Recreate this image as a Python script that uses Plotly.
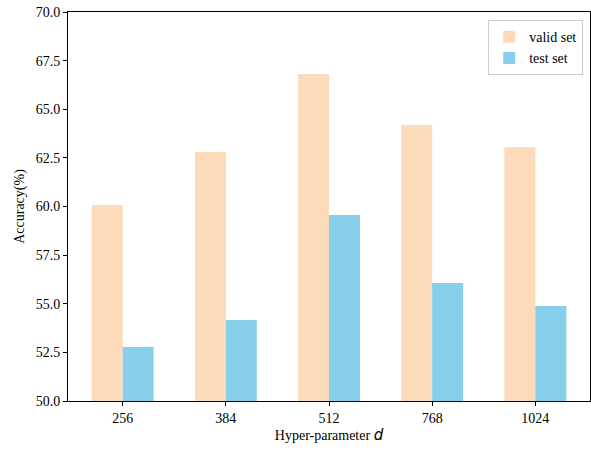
import plotly.graph_objects as go

categories = ["256", "384", "512", "768", "1024"]
valid_set = [60.08, 62.80, 66.81, 64.19, 63.06]
test_set = [52.78, 54.16, 59.56, 56.07, 54.88]
y_ticks = [50.0, 52.5, 55.0, 57.5, 60.0, 62.5, 65.0, 67.5, 70.0]

font_family = "Liberation Serif, Times New Roman, serif"

fig = go.Figure()
fig.add_trace(go.Bar(x=categories, y=valid_set, name="valid set",
                     marker=dict(color="#FDDAB9", line=dict(width=0)),
                     width=0.3, offset=-0.3, base=0))
fig.add_trace(go.Bar(x=categories, y=test_set, name="test set",
                     marker=dict(color="#87CEEB", line=dict(width=0)),
                     width=0.3, offset=0.0, base=0))

fig.update_layout(
    width=591, height=452,
    margin=dict(l=68, r=1, t=12, b=51),
    paper_bgcolor="white", plot_bgcolor="white",
    barmode="overlay",
    font=dict(family=font_family, size=14, color="black"),
    showlegend=True,
    legend=dict(x=0.987, y=0.979, xanchor="right", yanchor="top",
                bgcolor="rgba(255,255,255,0.8)", bordercolor="#cccccc", borderwidth=1,
                font=dict(family=font_family, size=14), traceorder="normal",
                itemwidth=30, tracegroupgap=0),
    xaxis=dict(type="category", range=[-0.53, 4.53],
               showline=True, linecolor="black", linewidth=1, mirror=True,
               ticks="outside", ticklen=4, tickcolor="black", showgrid=False,
               tickfont=dict(family=font_family, size=14),
               title=dict(text='Hyper-parameter <span style="font-family:DejaVu Sans;font-size:15px"><i>d</i></span>',
                          font=dict(family=font_family, size=14), standoff=5)),
    yaxis=dict(range=[50, 70], tickvals=y_ticks,
               ticktext=[f"{v:.1f}" for v in y_ticks],
               showline=True, linecolor="black", linewidth=1, mirror=True,
               ticks="outside", ticklen=4, tickcolor="black", showgrid=False,
               zeroline=False,
               tickfont=dict(family=font_family, size=14),
               title=dict(text="Accuracy(%)", font=dict(family=font_family, size=14), standoff=7)),
)

fig.write_html("out.html", config={"displayModeBar": False},
               post_script="document.body.style.margin='0';")
